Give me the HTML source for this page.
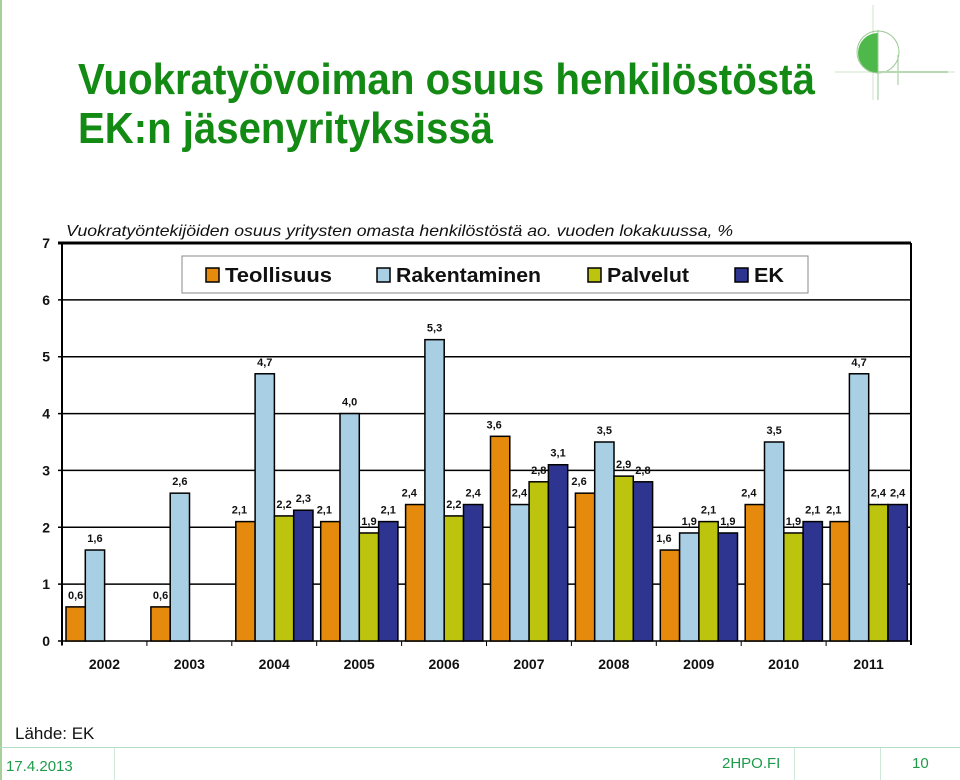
<!DOCTYPE html>
<html><head><meta charset="utf-8"><style>
body{margin:0;width:960px;height:780px;background:#fff;position:relative;overflow:hidden;font-family:"Liberation Sans",sans-serif}
.abs{position:absolute}
</style></head><body>
<div class="abs" style="left:0;top:0;width:2px;height:780px;background:#a6cf9a"></div>
<svg class="abs" style="left:0;top:0" width="830" height="160">
<text x="78" y="94" font-size="44" font-weight="bold" fill="#128a14" textLength="737" lengthAdjust="spacingAndGlyphs">Vuokratyövoiman osuus henkilöstöstä</text>
<text x="78" y="143" font-size="44" font-weight="bold" fill="#128a14" textLength="415" lengthAdjust="spacingAndGlyphs">EK:n jäsenyrityksissä</text>
</svg>
<svg class="abs" style="left:830px;top:0" width="130" height="105">
<line x1="43" y1="5" x2="43" y2="100" stroke="#cfe3c8"/><line x1="5" y1="72" x2="125" y2="72" stroke="#cfe3c8"/>
<path d="M48 33 A20 20 0 0 0 48 73 Z" fill="#4fb84a"/><circle cx="48" cy="52" r="21" fill="none" stroke="#9ac994" stroke-width="1"/>
<line x1="48" y1="30" x2="48" y2="100" stroke="#9ac994"/><line x1="68" y1="55" x2="68" y2="85" stroke="#9ac994"/>
<line x1="48" y1="72" x2="118" y2="72" stroke="#b8d8b2" stroke-width="2"/>
</svg>
<svg class="abs" style="left:0;top:200px" width="960" height="490" id="chart"></svg>
<div class="abs" style="left:15px;top:724px;font-size:17px;color:#111">Lähde: EK</div>
<div class="abs" style="left:0;top:747px;width:960px;height:1px;background:#b5dcc4"></div>
<div class="abs" style="left:114px;top:748px;width:1px;height:32px;background:#cfe8d8"></div>
<div class="abs" style="left:794px;top:748px;width:1px;height:32px;background:#cfe8d8"></div>
<div class="abs" style="left:880px;top:748px;width:1px;height:32px;background:#cfe8d8"></div>
<div class="abs" style="left:6px;top:758px;font-size:15px;color:#1e9a4a">17.4.2013</div>
<div class="abs" style="left:722px;top:755px;font-size:15px;color:#1e9a4a">2HPO.FI</div>
<div class="abs" style="left:912px;top:755px;font-size:15px;color:#1e9a4a">10</div>
<script>
const categories=["2002","2003","2004","2005","2006","2007","2008","2009","2010","2011"];
const seriesNames=["Teollisuus","Rakentaminen","Palvelut","EK"];
const teollisuus=[0.6,0.6,2.1,2.1,2.4,3.6,2.6,1.6,2.4,2.1];
const rakentaminen=[1.6,2.6,4.7,4.0,5.3,2.4,3.5,1.9,3.5,4.7];
const palvelut=[null,null,2.2,1.9,2.2,2.8,2.9,2.1,1.9,2.4];
const ek=[null,null,2.3,2.1,2.4,3.1,2.8,1.9,2.1,2.4];
const yTicks=[0,1,2,3,4,5,6,7];
const colors=["#e58a0c","#a8cfe4","#bdc40d","#2e3590"];
const series=[teollisuus,rakentaminen,palvelut,ek];
const NS="http://www.w3.org/2000/svg";
const svg=document.getElementById('chart');
const X0=62,X1=911,Y0=441,Y7=43;
const y=v=>Y0-(v/7)*(Y0-Y7);
const cw=(X1-X0)/categories.length;
const x=i=>X0+i*cw;
function mk(t,a,p){const e=document.createElementNS(NS,t);for(const k in a)e.setAttribute(k,a[k]);(p||svg).appendChild(e);return e;}
let t=mk('text',{x:66,y:36,'font-size':16,'font-style':'italic',fill:'#111',textLength:667,lengthAdjust:'spacingAndGlyphs'});t.textContent="Vuokratyöntekijöiden osuus yritysten omasta henkilöstöstä ao. vuoden lokakuussa, %";


yTicks.forEach(v=>{
 const l=mk('line',{x1:X0-4,x2:X1,y1:y(v),y2:y(v),stroke:'#000','stroke-width':v==7?3:1.5});
 
 
 const tx=mk('text',{x:50,y:y(v)+5,'font-size':14,'font-weight':'bold','text-anchor':'end',fill:'#111'});tx.textContent=v;
 
 
});
mk('line',{x1:X0,x2:X0,y1:Y7,y2:Y0+4,stroke:'#000','stroke-width':2});
mk('line',{x1:X1,x2:X1,y1:Y7,y2:Y0+4,stroke:'#000','stroke-width':2});
const lb=mk('rect',{x:182,y:56,width:626,height:37,fill:'#fff',stroke:'#888','stroke-width':1});


const lx=[206,377,588,735];
const lw=[107,145,82,30];
seriesNames.forEach((n,i)=>{
 const r=mk('rect',{x:lx[i],y:68,width:13,height:14,fill:colors[i],stroke:'#000','stroke-width':1.5});
 
 
 const tt=mk('text',{x:lx[i]+19,y:82,'font-size':20,'font-weight':'bold',fill:'#111',textLength:lw[i],lengthAdjust:'spacingAndGlyphs'});tt.textContent=n;
 
 
});
const bw=19.3;
categories.forEach((c,i)=>{
 mk('line',{x1:x(i),x2:x(i),y1:Y0,y2:Y0+5,stroke:'#000'});
 const cl=mk('text',{x:x(i)+cw/2,y:Y0+28,'font-size':14,'font-weight':'bold','text-anchor':'middle',fill:'#111'});cl.textContent=c;
 
 
 series.forEach((s,j)=>{
  const v=s[i];if(v==null)return;
  const bx=x(i)+4+j*bw;
  const b=mk('rect',{x:bx,y:y(v),width:bw,height:Y0-y(v),fill:colors[j],stroke:'#000','stroke-width':1.5});
  
  
  const lt=mk('text',{x:bx+bw/2-(j==0&&i>1?6:0),y:y(v)-8,'font-size':11,'font-weight':'bold','text-anchor':'middle',fill:'#111'});
  lt.textContent=String(v.toFixed(1)).replace('.',',');
  
  
 });
});
</script>
</body></html>
